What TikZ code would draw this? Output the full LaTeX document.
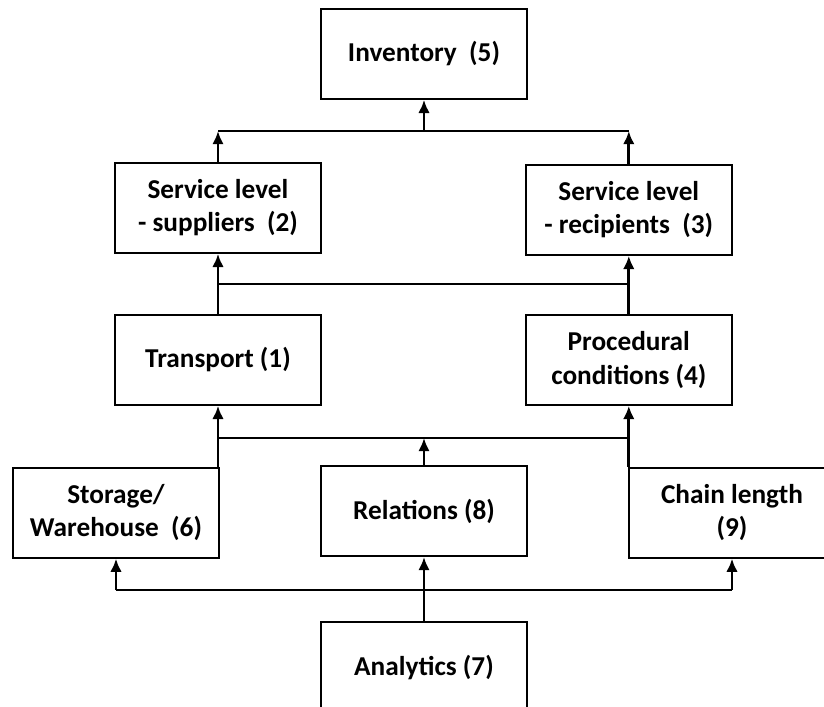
\documentclass[tikz,border=0pt]{standalone}
\usepackage{fontspec}
\setmainfont{Carlito}
\usepackage{tikz}
\usetikzlibrary{arrows.meta,calc}

\begin{document}
\begin{tikzpicture}[
    box/.style={draw,line width=1.2pt,minimum width=5.15cm,minimum height=2.25cm,
        align=center,inner sep=2pt,font=\bfseries\fontsize{19.4}{23.5}\selectfont},
    arr/.style={-{Latex[length=3.3mm,width=2.9mm]},line width=2.1pt},
    bus/.style={line width=1pt}]
\useasboundingbox (0,0) rectangle (20.6,-17.675);

% Boxes
\node[box] (inv) at (10.6,-1.35) {Inventory\ \ (5)};
\node[box] (sup) at (5.45,-5.2) {Service level\\- suppliers\ \ (2)};
\node[box] (rec) at (15.72,-5.25) {Service level\\- recipients\ \ (3)};
\node[box] (tra) at (5.45,-9.0) {Transport (1)};
\node[box] (pro) at (15.72,-9.0) {Procedural\\conditions (4)};
\node[box] (sto) at (2.9,-12.82) {Storage/\\Warehouse\ \ (6)};
\node[box] (rel) at (10.6,-12.78) {Relations (8)};
\node[box] (cha) at (18.3,-12.82) {Chain length\\(9)};
\node[box] (ana) at (10.6,-16.68) {Analytics (7)};

% Junction levels
\coordinate (top) at (10.6,-3.275);
\coordinate (mid) at (10.6,-7.1);
\coordinate (low) at (10.6,-10.95);
\coordinate (bot) at (10.6,-14.75);

% Top level
\draw[bus] (sup.north |- top) -- (rec.north |- top);
\draw[arr] (sup.north) -- (sup.north |- top);
\draw[arr] (rec.north) -- (rec.north |- top);
\draw[arr] (top) -- (inv.south);

% Second level
\draw[bus] (tra.north |- mid) -- (pro.north |- mid);
\draw[arr] (tra) -- (sup);
\draw[arr] (pro) -- (rec);

% Third level
\draw[bus] (tra.south |- low) -- (pro.south |- low);
\draw[arr] (tra.south |- sto.north) -- (tra.south);
\draw[arr] (pro.south |- cha.north) -- (pro.south);
\draw[arr] (rel.north) -- (rel.north |- low);

% Bottom level
\draw[bus] (sto.south |- bot) -- (cha.south |- bot);
\draw[arr] (sto.south |- bot) -- (sto.south);
\draw[arr] (cha.south |- bot) -- (cha.south);
\draw[arr] (ana) -- (rel);
\end{tikzpicture}
\end{document}
